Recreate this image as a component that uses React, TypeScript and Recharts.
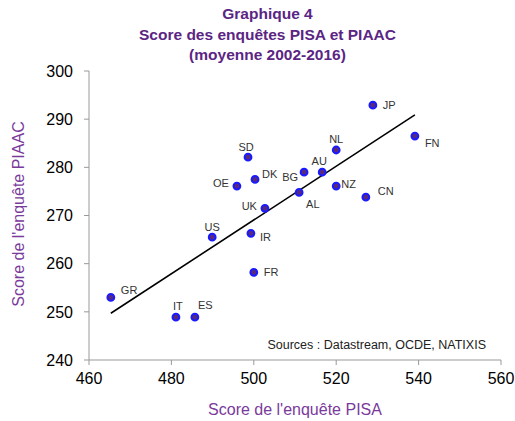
import { ScatterChart, Scatter, XAxis, YAxis, ReferenceLine } from "recharts";

const countries = ["JP", "FN", "NL", "AU", "BG", "AL", "NZ", "CN", "SD", "DK", "OE", "UK", "US", "IR", "FR", "GR", "IT", "ES"];
const pisa = [528.9, 539.1, 520.0, 516.6, 512.2, 511.0, 520.0, 527.2, 498.6, 500.3, 495.9, 502.7, 489.9, 499.3, 500.0, 465.3, 481.1, 485.7];
const piaac = [292.9, 286.5, 283.6, 279.0, 279.0, 274.8, 276.1, 273.8, 282.1, 277.5, 276.1, 271.5, 265.5, 266.3, 258.2, 253.0, 248.9, 248.9];

const trendX = [465.3, 539.1];
const trendY = [249.7, 290.9];

const xTicks = [460, 480, 500, 520, 540, 560];
const yTicks = [240, 250, 260, 270, 280, 290, 300];

// label placement around each dot (offsets in px)
const labelOffset: Record<string, [number, number, string]> = {
  JP: [10, 4, "start"],
  FN: [10, 11, "start"],
  NL: [0, -7, "middle"],
  AU: [-3, -7, "middle"],
  BG: [-6, 9, "end"],
  AL: [7, 16, "start"],
  NZ: [5, 2, "start"],
  CN: [12, -2, "start"],
  SD: [-2, -6, "middle"],
  DK: [7, -1, "start"],
  OE: [-8, 1, "end"],
  UK: [-8, 2, "end"],
  US: [0, -6, "middle"],
  IR: [9, 8, "start"],
  FR: [10, 4, "start"],
  GR: [10, -3, "start"],
  IT: [2, -7, "middle"],
  ES: [3, -8, "start"],
};

const points = countries.map((c, i) => ({ name: c, x: pisa[i], y: piaac[i] }));

const font = "'Liberation Sans', Arial, sans-serif";

function Dot(props: any) {
  const { cx, cy, payload } = props;
  const [dx, dy, anchor] = labelOffset[payload.name];
  return (
    <g>
      <circle cx={cx} cy={cy} r={3.4} fill="#5a2a7a" stroke="#1a1aff" strokeWidth={2} />
      <text x={cx + dx} y={cy + dy} textAnchor={anchor} fontSize={11} fill="#333" fontFamily={font}>
        {payload.name}
      </text>
    </g>
  );
}

export default function App() {
  const tick = { fill: "#000", fontSize: 16, fontFamily: font };
  return (
    <div style={{ position: "absolute", left: 0, top: 0, width: 515, height: 421, background: "#fff", fontFamily: font }}>
      <div style={{ position: "absolute", left: 0, top: 4, width: 515, textAlign: "center", color: "#5b2584", fontWeight: 700, fontSize: 15.5, lineHeight: "20.5px" }}>
        <div style={{ marginLeft: 20 }}>Graphique 4</div>
        <div style={{ marginLeft: 20 }}>Score des enquêtes PISA et PIAAC</div>
        <div style={{ marginLeft: 20 }}>(moyenne 2002-2016)</div>
      </div>
      <ScatterChart width={515} height={421} margin={{ top: 71, right: 14, bottom: 31, left: 0 }}>
        <XAxis
          type="number"
          dataKey="x"
          domain={[460, 560]}
          ticks={xTicks}
          tick={tick}
          tickSize={5}
          tickMargin={8}
          stroke="#999"
          allowDataOverflow
        />
        <YAxis
          type="number"
          dataKey="y"
          domain={[240, 300]}
          ticks={yTicks}
          tick={tick}
          tickSize={5}
          tickMargin={11}
          width={89}
          stroke="#999"
          allowDataOverflow
        />
        <ReferenceLine
          segment={[
            { x: trendX[0], y: trendY[0] },
            { x: trendX[1], y: trendY[1] },
          ]}
          stroke="#000"
          strokeWidth={1.6}
        />
        <Scatter data={points} shape={<Dot />} isAnimationActive={false} />
      </ScatterChart>
      <div style={{ position: "absolute", right: 29, top: 338, fontSize: 12.5, color: "#222" }}>
        Sources : Datastream, OCDE, NATIXIS
      </div>
      <div style={{ position: "absolute", left: 295, top: 410, transform: "translate(-50%, -50%)", whiteSpace: "nowrap", fontSize: 16, color: "#7a3a9c" }}>
        Score de l'enquête PISA
      </div>
      <div style={{ position: "absolute", left: 19, top: 214, transform: "translate(-50%, -50%) rotate(-90deg)", whiteSpace: "nowrap", fontSize: 16, color: "#7a3a9c" }}>
        Score de l'enquête PIAAC
      </div>
    </div>
  );
}
